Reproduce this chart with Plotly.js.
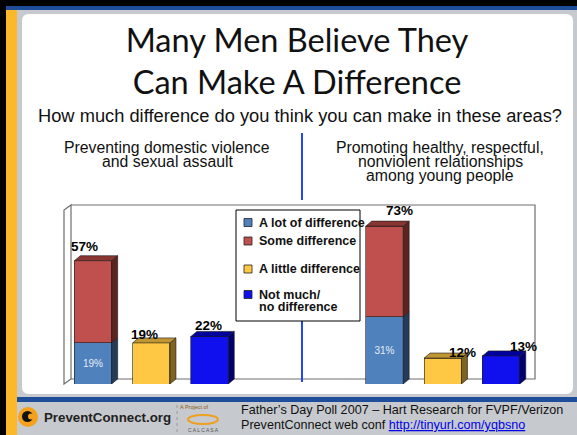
<!DOCTYPE html>
<html>
<head>
<meta charset="utf-8">
<script src="https://cdn.plot.ly/plotly-3.0.1.min.js"></script>
<style>
html,body{margin:0;padding:0;background:#c6c9cd;}
#chart{width:577px;height:435px;}
</style>
</head>
<body>
<div id="chart"></div>
<script>
// ---------------- data ----------------
const titleText = 'Many Men Believe They<br>Can Make A Difference';
const questionText = 'How much difference do you think you can make in these areas?';
const groups = ['Preventing domestic violence<br>and sexual assault',
                'Promoting healthy, respectful,<br>nonviolent relationships<br>among young people'];
const seriesNames = ['A lot of difference', 'Some difference', 'A little difference', 'Not much/<br>no difference'];
const aLotOfDifference = [19, 31];
const someOrMore = [57, 73];          // A lot + Some (label on stacked bar)
const aLittleDifference = [19, 12];
const notMuchDifference = [22, 13];
const sourceLines = ['Father\u2019s Day Poll 2007 \u2013 Hart Research for FVPF/Verizon',
                     'PreventConnect web conf '];
const sourceLink = 'http://tinyurl.com/yqbsno';
const logoText = 'PreventConnect.org';

// ---------------- geometry / style ----------------
const W = 577, H = 435;
const M = {l: 64, r: 40, t: 205, b: 51};
const PW = W - M.l - M.r, PH = H - M.t - M.b;
const PX_PER_UNIT = 58.3, PX_PER_PCT = 2.163, FIRST_BAR_PX = 29;
const xRange = [-FIRST_BAR_PX / PX_PER_UNIT, (PW - FIRST_BAR_PX) / PX_PER_UNIT];
const yRange = [0, PH / PX_PER_PCT];
const BAR_W = 0.64;
const DEPTH_X = 6, DEPTH_Y = 5;
const dxu = DEPTH_X * (xRange[1] - xRange[0]) / PW;
const dyu = DEPTH_Y * (yRange[1] - yRange[0]) / PH;
const fx = p => (p - M.l) / PW;
const fy = p => 1 - (p - M.t) / PH;

const front = ['#4f81bd', '#c0504d', '#fec844', '#1010ee'];
const side  = ['#243c5a', '#5c2421', '#7e6420', '#00006e'];
const top_  = ['#36587f', '#8a3532', '#bf9631', '#00009c'];
const edge = '#1a1a1a';

const GROUP_STEP = 5;
const slotOf = [0, 0, 1, 2];
const xsFor = s => groups.map((g, i) => i * GROUP_STEP + slotOf[s]);
const someDifference = someOrMore.map((t, i) => t - aLotOfDifference[i]);
const seriesValues = [aLotOfDifference, someDifference, aLittleDifference, notMuchDifference];

// ---------------- traces ----------------
const traces = seriesValues.map((vals, s) => ({
  type: 'bar', x: xsFor(s), y: vals, name: seriesNames[s], width: BAR_W,
  marker: {color: front[s], line: {color: edge, width: 0.6}},
  text: s === 0 ? vals.map(v => v + '%') : undefined,
  textposition: s === 0 ? 'inside' : 'none',
  insidetextanchor: 'middle', textangle: 0,
  textfont: {family: 'Liberation Sans, Arial', size: 10, color: '#e6edf5'},
  showlegend: false, hoverinfo: 'name+y'
}));

// ---------------- shapes ----------------
const shapes = [];
const rectPx = (x0, y0, x1, y1, color, extra) => Object.assign({
  type: 'rect', xref: 'paper', yref: 'paper', x0: fx(x0), x1: fx(x1), y0: fy(y0), y1: fy(y1),
  fillcolor: color, line: {width: 0}, layer: 'below'}, extra || {});
// slide background
shapes.push(rectPx(0, 0, W, 6, '#000'));
shapes.push(rectPx(0, 6, W, 10, '#1e4d9a'));
shapes.push(rectPx(0, 0, 6, H, '#000'));
shapes.push(rectPx(6, 10, 17, H, '#fbb829'));
// white panel with rounded corners
(function () {
  const x0 = 22, x1 = 573, y0 = 14, y1 = 394, r = 7;
  const X = v => fx(v), Y = v => fy(v);
  shapes.push({type: 'path', xref: 'paper', yref: 'paper', layer: 'below', fillcolor: '#ffffff', line: {width: 0},
    path: `M${X(x0 + r)},${Y(y0)} L${X(x1 - r)},${Y(y0)} Q${X(x1)},${Y(y0)} ${X(x1)},${Y(y0 + r)} L${X(x1)},${Y(y1 - r)} Q${X(x1)},${Y(y1)} ${X(x1 - r)},${Y(y1)} L${X(x0 + r)},${Y(y1)} Q${X(x0)},${Y(y1)} ${X(x0)},${Y(y1 - r)} L${X(x0)},${Y(y0 + r)} Q${X(x0)},${Y(y0)} ${X(x0 + r)},${Y(y0)} Z`});
})();
shapes.push(rectPx(17, 397, W, 402, '#1e4d9a'));
// chart frame (3D walls)
shapes.push({type: 'path', xref: 'paper', yref: 'paper', layer: 'below', fillcolor: '#ffffff',
  line: {color: '#6e6e6e', width: 1.2},
  path: `M${fx(64)},${fy(384)} L${fx(71)},${fy(379)} L${fx(71)},${fy(205)} L${fx(64)},${fy(210)} Z`});
shapes.push({type: 'path', xref: 'paper', yref: 'paper', layer: 'below', fillcolor: 'rgba(0,0,0,0)',
  line: {color: '#6e6e6e', width: 1.2},
  path: `M${fx(71)},${fy(379)} L${fx(535)},${fy(379)} L${fx(535)},${fy(205)} L${fx(71)},${fy(205)}`});
// divider line
shapes.push({type: 'line', xref: 'paper', yref: 'paper', x0: fx(302), x1: fx(302), y0: fy(133), y1: fy(200),
  line: {color: '#1f45ff', width: 2}});
shapes.push({type: 'line', xref: 'paper', yref: 'paper', x0: fx(302), x1: fx(302), y0: fy(307), y1: fy(382),
  line: {color: '#1f45ff', width: 2}});

// 3D faces of bars, computed from the data through the axis scale
function addFaces(xc, y0, y1, s, withTop) {
  const xr = xc + BAR_W / 2, xl = xc - BAR_W / 2;
  shapes.push({type: 'path', xref: 'x', yref: 'y', fillcolor: side[s], line: {color: edge, width: 0.6},
    path: `M${xr},${y0} L${xr + dxu},${y0 + dyu} L${xr + dxu},${y1 + dyu} L${xr},${y1} Z`});
  if (withTop) shapes.push({type: 'path', xref: 'x', yref: 'y', fillcolor: top_[s], line: {color: edge, width: 0.6},
    path: `M${xl},${y1} L${xl + dxu},${y1 + dyu} L${xr + dxu},${y1 + dyu} L${xr},${y1} Z`});
}
groups.forEach((g, i) => {
  const xc = i * GROUP_STEP;
  addFaces(xc, 0, aLotOfDifference[i], 0, false);
  addFaces(xc, aLotOfDifference[i], someOrMore[i], 1, true);
  addFaces(xc + 1, 0, aLittleDifference[i], 2, true);
  addFaces(xc + 2, 0, notMuchDifference[i], 3, true);
});

// legend (box + swatches)
const LEG = {x0: 236, y0: 210, x1: 360, y1: 321, sw: 248, tx: 257, rows: [222.5, 241, 269, 294.5]};
shapes.push({type: 'rect', xref: 'paper', yref: 'paper', x0: fx(LEG.x0), x1: fx(LEG.x1), y0: fy(LEG.y0), y1: fy(LEG.y1),
  fillcolor: '#ffffff', line: {color: '#000', width: 1}});
seriesNames.forEach((n, s) => {
  shapes.push({type: 'rect', xref: 'paper', yref: 'paper', x0: fx(LEG.sw - 4), x1: fx(LEG.sw + 4),
    y0: fy(LEG.rows[s] - 4), y1: fy(LEG.rows[s] + 4), fillcolor: front[s], line: {color: '#222', width: 0.8}});
});

// logo shapes
shapes.push({type: 'circle', xref: 'paper', yref: 'paper', x0: fx(18), x1: fx(38), y0: fy(407), y1: fy(427),
  fillcolor: '#f6a11c', line: {width: 0}});
shapes.push({type: 'circle', xref: 'paper', yref: 'paper', x0: fx(22), x1: fx(33), y0: fy(411), y1: fy(422),
  fillcolor: '#111', line: {width: 0}});
shapes.push({type: 'circle', xref: 'paper', yref: 'paper', x0: fx(28), x1: fx(34), y0: fy(413.5), y1: fy(419.5),
  fillcolor: '#f6a11c', line: {width: 0}});
shapes.push({type: 'line', xref: 'paper', yref: 'paper', x0: fx(177), x1: fx(177), y0: fy(405), y1: fy(432),
  line: {color: '#9a9a9a', width: 1, dash: 'dot'}});
shapes.push({type: 'circle', xref: 'paper', yref: 'paper', x0: fx(188), x1: fx(218), y0: fy(415), y1: fy(424),
  fillcolor: 'rgba(0,0,0,0)', line: {color: '#f0a020', width: 2}});

// ---------------- annotations ----------------
const ann = [];
const txt = (text, x, y, size, opts) => Object.assign({
  text, xref: 'paper', yref: 'paper', x: fx(x), y: fy(y), showarrow: false,
  xanchor: 'center', yanchor: 'middle',
  font: {family: 'Liberation Sans, Arial', size, color: '#111'}}, opts || {});

ann.push(txt(questionText, 300, 115, 18.3));
const headX = [167, 440];
groups.forEach((g, i) => {
  g.split('<br>').forEach((line, k) => ann.push(txt(line, headX[i], 147 + k * 14.3, 15.8)));
});
// legend labels
seriesNames.forEach((n, s) => {
  n.split('<br>').forEach((line, k) => ann.push(txt(line, LEG.tx, LEG.rows[s] + k * 12, 12.5,
    {xanchor: 'left', font: {family: 'Liberation Sans, Arial', size: 12.5, color: '#111', weight: 'bold'}})));
});
// value labels
const labelShift = [[-9, 5], [-7, -1], [-1, 1], [15, 6], [19.5, -4], [22.5, 0]];
const labelVals = [];
groups.forEach((g, i) => {
  labelVals.push([i * GROUP_STEP, someOrMore[i]]);
  labelVals.push([i * GROUP_STEP + 1, aLittleDifference[i]]);
  labelVals.push([i * GROUP_STEP + 2, notMuchDifference[i]]);
});
labelVals.forEach(([x, v], k) => {
  ann.push({text: v + '%', xref: 'x', yref: 'y', x, y: v, showarrow: false, xanchor: 'center', yanchor: 'bottom',
    xshift: labelShift[k][0], yshift: labelShift[k][1],
    font: {family: 'Liberation Sans, Arial', size: 13.5, color: '#000', weight: 'bold'}});
});
// footer
ann.push(txt(sourceLines[0], 239, 410, 12.6, {xanchor: 'left'}));
ann.push(txt(sourceLines[1] + '<span style="color:#0000ee;text-decoration:underline">' + sourceLink + '</span>', 239, 425, 12.6, {xanchor: 'left'}));
ann.push(txt('<b>' + logoText + '</b>', 42, 417, 13.3, {xanchor: 'left',
  font: {family: 'Liberation Sans, Arial', size: 13.3, color: '#222'}}));
ann.push(txt('A Project of', 194, 407, 5.5, {font: {family: 'Liberation Sans', size: 5.5, color: '#8a5a10'}}));
ann.push(txt('C A L C A S A', 203, 430, 5, {font: {family: 'Liberation Sans', size: 5, color: '#555'}}));

const layout = {
  width: W, height: H, margin: M,
  paper_bgcolor: '#c6c9cd', plot_bgcolor: 'rgba(0,0,0,0)',
  title: {text: titleText, font: {family: 'Lato', size: 32.5, color: '#111'},
    x: 297 / W, xanchor: 'center', yref: 'container', y: 1 - 52 / H, yanchor: 'middle'},
  barmode: 'stack', bargap: 0,
  xaxis: {range: xRange, visible: false, fixedrange: true},
  yaxis: {range: yRange, visible: false, fixedrange: true},
  showlegend: false,
  shapes, annotations: ann
};
Plotly.newPlot('chart', traces, layout, {staticPlot: true, displayModeBar: false});
</script>
</body>
</html>
